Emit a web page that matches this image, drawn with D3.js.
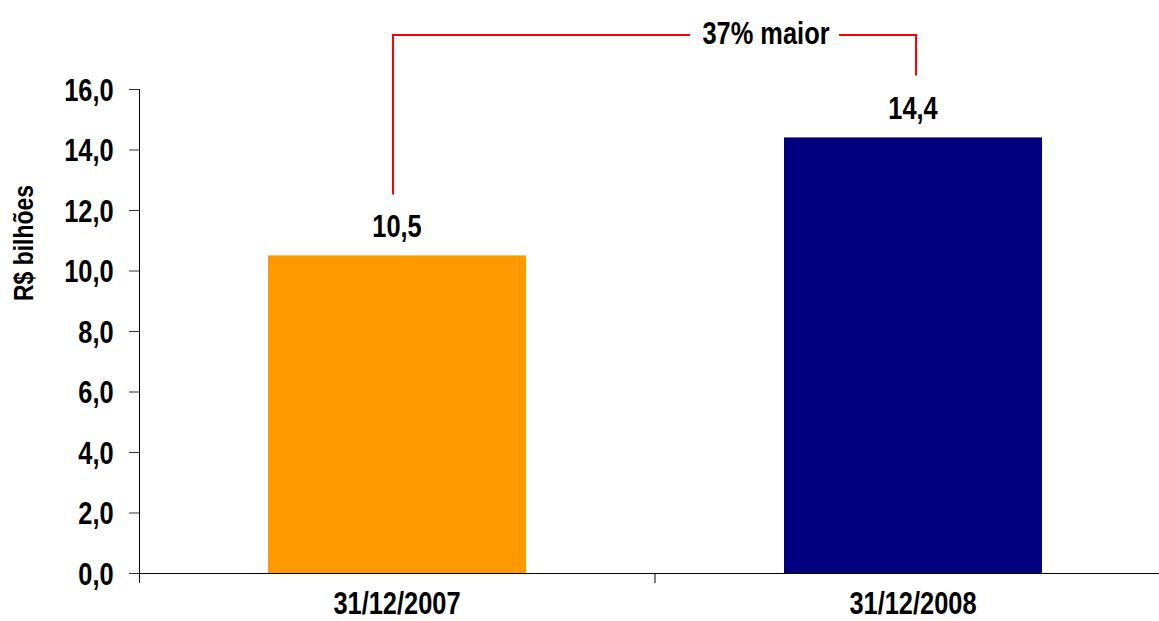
<!DOCTYPE html>
<html>
<head>
<meta charset="utf-8">
<script src="https://cdn.jsdelivr.net/npm/d3@7"></script>
<style>
  body { margin: 0; background: #fff; }
  text { font-family: "Liberation Sans Narrow", "Arial Narrow", "Liberation Sans", sans-serif; font-weight: bold; fill: #000; }
</style>
</head>
<body>
<svg id="chart"></svg>
<script>
// chart values
const categories = ["31/12/2007", "31/12/2008"];
const values = [10.5, 14.4];
const valueLabels = ["10,5", "14,4"];
const barColors = ["#FF9900", "#000080"];
const yTicks = [0, 2, 4, 6, 8, 10, 12, 14, 16];
const growthLabel = "37% maior";

const W = 1159, H = 621;
const narrow = 0.82; // horizontal squeeze to mimic a narrow font
const fs = "31px";
let margin = {top: 89, right: -12, bottom: 48, left: 139},
    width = W - margin.left - margin.right,
    height = H - margin.top - margin.bottom;

const svg = d3.select("#chart")
    .attr("width", W)
    .attr("height", H);

const g = svg.append("g")
    .attr("transform", "translate(" + margin.left + "," + margin.top + ")");

// place a squeezed text at (px, py)
function narrowText(sel, px, py) {
    return sel.attr("transform", (d, i) =>
        "translate(" + px(d, i) + "," + py(d, i) + ") scale(" + narrow + ",1)");
}

// scales
const x = d3.scaleBand()
    .domain(categories)
    .range([0, width])
    .paddingInner(0.5)
    .paddingOuter(0.25);

const y = d3.scaleLinear()
    .domain([0, 16])
    .range([height, 0]);

// bars
g.selectAll(".bar")
    .data(values)
    .enter().append("rect")
    .attr("class", "bar")
    .attr("x", (d, i) => x(categories[i]))
    .attr("y", d => y(d))
    .attr("width", x.bandwidth())
    .attr("height", d => height - y(d))
    .attr("fill", (d, i) => barColors[i]);

// value labels
narrowText(g.selectAll(".val")
    .data(values)
    .enter().append("text")
    .attr("class", "val")
    .attr("text-anchor", "middle")
    .style("font-size", fs)
    .text((d, i) => valueLabels[i]),
    (d, i) => x(categories[i]) + x.bandwidth() / 2,
    d => y(d) - 18);

// y axis
const yAxis = g.append("g")
    .call(d3.axisLeft(y).tickValues(yTicks).tickSize(10).tickPadding(21)
        .tickFormat(d => d3.format(".1f")(d).replace(".", ",")));
yAxis.select(".domain").attr("d", "M0.5," + y(16) + "V" + (height + 10));
yAxis.selectAll("line").attr("stroke", "#333");
yAxis.selectAll("text")
    .style("font-size", fs)
    .attr("dy", "0.36em")
    .attr("transform", "scale(" + narrow + ",1)");

// x axis: baseline and ticks between categories
const xAxis = g.append("g").attr("transform", "translate(0," + height + ")");
xAxis.append("line")
    .attr("x1", 0).attr("x2", width)
    .attr("y1", 0.5).attr("y2", 0.5)
    .attr("stroke", "#000");
xAxis.selectAll(".xtick")
    .data(categories.slice(1))
    .enter().append("line")
    .attr("x1", d => x(d) - x.step() * x.paddingInner() / 2)
    .attr("x2", d => x(d) - x.step() * x.paddingInner() / 2)
    .attr("y1", 0).attr("y2", 10)
    .attr("stroke", "#000");
narrowText(xAxis.selectAll(".xlab")
    .data(categories)
    .enter().append("text")
    .attr("text-anchor", "middle")
    .style("font-size", fs)
    .text(d => d),
    d => x(d) + x.bandwidth() / 2,
    () => 41);

// y axis title
svg.append("text")
    .attr("transform", "translate(33,243) rotate(-90) scale(" + narrow + ",1)")
    .attr("text-anchor", "middle")
    .style("font-size", "28px")
    .text("R$ bilhões");

// growth bracket
const x0 = margin.left + x(categories[0]) + x.bandwidth() / 2 - 4;
const x1 = margin.left + x(categories[1]) + x.bandwidth() / 2 + 3;
const topY = 35;
const midX = 766;
const red = "#FF0000";
svg.append("path")
    .attr("d", "M" + x0 + "," + (margin.top + y(values[0]) - 61) + "V" + topY + "H" + 690)
    .attr("fill", "none").attr("stroke", red).attr("stroke-width", 2);
svg.append("path")
    .attr("d", "M" + 839 + "," + topY + "H" + x1 + "V" + (margin.top + y(values[1]) - 62))
    .attr("fill", "none").attr("stroke", red).attr("stroke-width", 2);
svg.append("text")
    .attr("transform", "translate(" + midX + "," + (topY + 9) + ") scale(" + narrow + ",1)")
    .attr("text-anchor", "middle")
    .style("font-size", fs)
    .text(growthLabel);
</script>
</body>
</html>
